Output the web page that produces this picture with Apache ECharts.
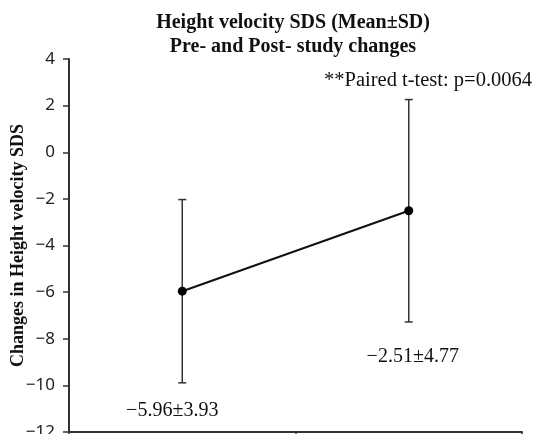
<!DOCTYPE html>
<html>
<head>
<meta charset="utf-8">
<script src="https://cdn.jsdelivr.net/npm/echarts@6/dist/echarts.min.js"></script>
<style>
  html, body { margin: 0; padding: 0; background: #fff; }
  #main { width: 536px; height: 434px; }
</style>
</head>
<body>
<div id="main"></div>
<script>
const categories = ['Pre-study', 'Post-study']
const means = [-5.96, -2.51]
const sds = [3.93, 4.77]
const yTicks = { min: -12, max: 4, interval: 2 }
const titleLines = ['Height velocity SDS (Mean±SD)', 'Pre- and Post- study changes']
const note = '**Paired t-test: p=0.0064'
const yName = 'Changes in Height velocity SDS'

const minus = (s) => String(s).replace('-', '\u2212')

// pixel nudges for the mean±SD texts under each bar
const labelOffsets = [[-10, 28], [4, 35]]

const errData = means.map((m, i) => [i, +(m - sds[i]).toFixed(2), +(m + sds[i]).toFixed(2), m, sds[i]])

const renderErr = (params, api) => {
  const i = api.value(0)
  const lo = api.coord([i, api.value(1)])
  const hi = api.coord([i, api.value(2)])
  const cap = 4
  const st = { stroke: '#333', lineWidth: 1.5 }
  const off = labelOffsets[params.dataIndex]
  return {
    type: 'group',
    children: [
      { type: 'line', shape: { x1: hi[0], y1: hi[1], x2: lo[0], y2: lo[1] }, style: st },
      { type: 'line', shape: { x1: hi[0] - cap, y1: hi[1], x2: hi[0] + cap, y2: hi[1] }, style: st },
      { type: 'line', shape: { x1: lo[0] - cap, y1: lo[1], x2: lo[0] + cap, y2: lo[1] }, style: st },
      {
        type: 'text',
        style: {
          x: lo[0] + off[0],
          y: lo[1] + off[1],
          text: minus(api.value(3).toFixed(2)) + '±' + api.value(4).toFixed(2),
          font: '20px "Liberation Serif", "Times New Roman", serif',
          fill: '#111',
          align: 'center',
          verticalAlign: 'middle'
        }
      }
    ]
  }
}

const chart = echarts.init(document.getElementById('main'))
chart.setOption({
  backgroundColor: '#fff',
  animation: false,
  title: {
    text: titleLines.join('\n'),
    left: 288,
    top: 6,
    textAlign: 'center',
    textStyle: {
      fontFamily: '"Liberation Serif", "Times New Roman", serif',
      fontWeight: 'bold',
      fontSize: 20,
      lineHeight: 24,
      color: '#111'
    }
  },
  graphic: [{
    type: 'text',
    right: 4,
    top: 70,
    style: {
      text: note,
      font: '20.5px "Liberation Serif", "Times New Roman", serif',
      fill: '#111'
    }
  }],
  grid: { left: 69, right: 14, top: 59, bottom: 2, outerBoundsMode: 'none' },
  xAxis: {
    type: 'category',
    data: categories,
    boundaryGap: true,
    axisLine: { onZero: false, lineStyle: { color: '#333', width: 2 } },
    axisTick: { show: true, length: 6, lineStyle: { color: '#333', width: 1.5 } },
    axisLabel: { show: false }
  },
  yAxis: {
    type: 'value',
    min: yTicks.min,
    max: yTicks.max,
    interval: yTicks.interval,
    name: yName,
    nameLocation: 'middle',
    nameGap: 42,
    nameMoveOverlap: false,
    nameTextStyle: {
      fontFamily: '"Liberation Serif", "Times New Roman", serif',
      fontWeight: 'bold',
      fontSize: 18,
      color: '#111'
    },
    splitLine: { show: false },
    axisLine: { show: true, lineStyle: { color: '#333', width: 2 } },
    axisTick: { show: true, length: 6, lineStyle: { color: '#333', width: 1.5 } },
    axisLabel: {
      margin: 14,
      fontFamily: '"Noto Sans", sans-serif',
      fontSize: 17,
      color: '#222',
      formatter: (v) => minus(v)
    }
  },
  series: [
    {
      type: 'custom',
      data: errData,
      encode: { x: 0, y: [1, 2] },
      renderItem: renderErr,
      z: 1
    },
    {
      type: 'line',
      data: means,
      symbol: 'circle',
      symbolSize: 9,
      lineStyle: { color: '#111', width: 2 },
      itemStyle: { color: '#000' },
      z: 3
    }
  ]
})
</script>
</body>
</html>
